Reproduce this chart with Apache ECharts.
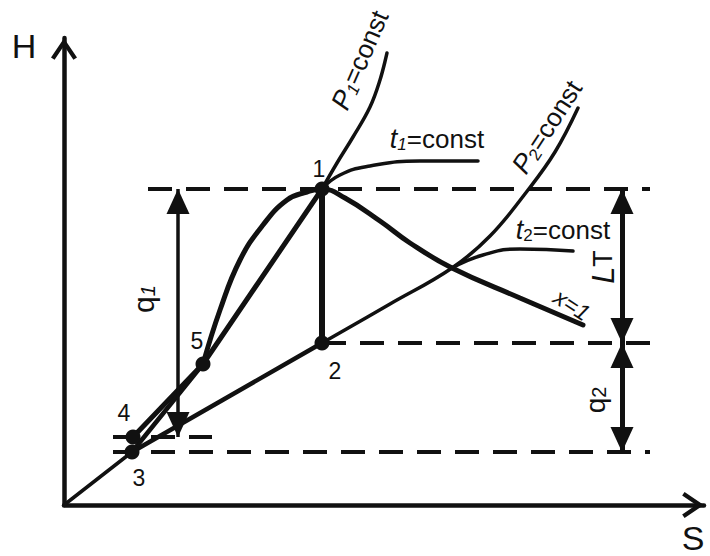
<!DOCTYPE html>
<html>
<head>
<meta charset="utf-8">
<script src="https://cdn.jsdelivr.net/npm/echarts@6/dist/echarts.min.js"></script>
<style>
html, body { margin: 0; padding: 0; background: #fff; }
#chart { width: 710px; height: 556px; }
</style>
</head>
<body>
<div id="chart"></div>
<script>
// state points of the cycle, S along x and H up (units)
const pointNames = ['1', '2', '3', '4', '5'];
const pointS = [258, 258, 68, 69, 139];
const pointH = [316, 162, 53, 68, 141];

// curves, [S, H]
const p2Lower = [[0, 0], [68, 53]];
const expansion32 = [[68, 53], [258, 162]];
const p2Upper = [[258, 162], [326, 201], [388, 237], [426, 269], [464, 315], [491, 353], [514, 397]];
const turbine12 = [[258, 316], [258, 162]];
const heating451 = [[69, 68], [139, 141], [258, 316]];
const liquid35 = [[68, 53], [139, 141]];
const saturation = [[139, 141], [156, 195], [176, 245], [199, 280], [223, 305], [243, 313], [258, 316],
    [281, 307], [316, 284], [346, 262], [388, 237], [456, 207], [519, 180]];
const p1Upper = [[258, 316], [273, 342], [289, 368], [306, 398], [316, 425], [323, 452]];
const t1Curve = [[258, 316], [276, 330], [306, 339], [356, 344], [414, 344]];
const t2Curve = [[388, 237], [419, 250], [456, 256], [509, 254]];

// dashed enthalpy levels
const dashTop = [[84, 316], [586, 316]];
const dashMid = [[258, 162], [586, 162]];
const dashLow = [[49, 53], [586, 53]];
const dashPump = [[49, 68], [148, 68]];

// dimension arrows: [S, H from, H to]
const arrowQ1 = [114, 68, 316];
const arrowLT = [558, 162, 316];
const arrowQ2 = [558, 53, 162];

// label offsets from the dots (px)
const pointLabelOffsets = [[-3, -20], [13, 28], [7, 26], [-9, -24], [-6, -23]];

const ink = '#111';
const font = '"Liberation Sans", Arial, sans-serif';
const chevron = 'path://M0,20 L13.5,0 L27,20 L23.3,22.5 L13.5,8 L3.7,22.5 Z';

function curve(data, width, smooth) {
    return {
        type: 'line',
        data: data,
        symbol: 'none',
        smooth: smooth || false,
        silent: true,
        lineStyle: { color: ink, width: width, cap: 'round', opacity: 1 },
        z: 3
    };
}

function dashed(data) {
    return {
        type: 'line',
        data: data,
        symbol: 'none',
        silent: true,
        lineStyle: { color: ink, width: 4, type: [24, 14], cap: 'butt' },
        z: 2
    };
}

function arrow(a, width) {
    return [
        { coord: [a[0], a[1]], lineStyle: { width: width } },
        { coord: [a[0], a[2]] }
    ];
}

const axisCommon = {
    type: 'value',
    min: 0,
    axisLine: {
        show: true,
        onZero: false,
        symbol: ['none', chevron],
        symbolSize: [26, 22],
        symbolOffset: [0, -11],
        lineStyle: { color: ink, width: 4.5 }
    },
    axisTick: { show: false },
    axisLabel: { show: false },
    splitLine: { show: false }
};

const pointData = pointNames.map(function (n, i) {
    return {
        name: n,
        value: [pointS[i], pointH[i]],
        label: { offset: pointLabelOffsets[i] }
    };
});

function richLabel(x, y, deg, text, rich) {
    return {
        type: 'text', x: x, y: y, rotation: deg * Math.PI / 180,
        style: { text: text, align: 'center', verticalAlign: 'middle', fill: ink, rich: rich }
    };
}

const constRich = function (italicSub) {
    return {
        m: { fontFamily: font, fontSize: 27, fontStyle: 'italic', lineHeight: 28, color: ink },
        s: { fontFamily: font, fontSize: 17, fontStyle: italicSub ? 'italic' : 'normal', verticalAlign: 'bottom', lineHeight: 20, color: ink },
        n: { fontFamily: font, fontSize: 26, lineHeight: 28, color: ink }
    };
};

const chart = echarts.init(document.getElementById('chart'), null, { renderer: 'svg' });

const option = {
    animation: false,
    backgroundColor: '#fff',
    grid: { left: 64, right: 6, top: 38, bottom: 51 },
    xAxis: Object.assign({}, axisCommon, { max: 640 }),
    yAxis: Object.assign({}, axisCommon, { max: 467 }),
    series: [
        dashed(dashTop),
        dashed(dashMid),
        dashed(dashLow),
        dashed(dashPump),
        curve(p2Lower, 3.5),
        curve(expansion32, 4.5),
        curve(p2Upper, 3.5, 0.4),
        curve(turbine12, 6),
        curve(heating451, 5),
        curve(liquid35, 4.5),
        curve(saturation, 5, 0.45),
        curve(p1Upper, 3.5, 0.4),
        curve(t1Curve, 3.5, 0.5),
        curve(t2Curve, 3.5, 0.5),
        {
            type: 'line',
            data: [],
            silent: true,
            markLine: {
                silent: true,
                animation: false,
                symbol: ['triangle', 'triangle'],
                symbolSize: [23, 25],
                symbolOffset: [[0, 12.5], [0, 12.5]],
                label: { show: false },
                emphasis: { disabled: true },
                lineStyle: { color: ink, type: 'solid', width: 5, opacity: 1 },
                data: [arrow(arrowQ1, 3.5), arrow(arrowLT, 5), arrow(arrowQ2, 5)]
            }
        },
        {
            type: 'scatter',
            data: pointData,
            symbol: 'circle',
            symbolSize: 15,
            silent: true,
            itemStyle: { color: ink, opacity: 1 },
            label: {
                show: true,
                position: 'inside',
                formatter: '{b}',
                color: ink,
                fontFamily: font,
                fontSize: 23
            },
            z: 5
        }
    ],
    graphic: [
        { type: 'text', x: 24, y: 46, style: { text: 'H', fontFamily: font, fontSize: 34, fill: ink, align: 'center', verticalAlign: 'middle' } },
        { type: 'text', x: 693, y: 538, style: { text: 'S', fontFamily: font, fontSize: 34, fill: ink, align: 'center', verticalAlign: 'middle' } },
        richLabel(360, 60, 66.5, '{m|P}{s|1}{n|=const}', constRich(true)),
        richLabel(547, 127, 57, '{m|P}{s|2}{n|=const}', constRich(false)),
        richLabel(437, 139, 0, '{m|t}{s|1}{n|=const}', constRich(true)),
        richLabel(563, 230, 0, '{m|t}{s|2}{n|=const}', constRich(false)),
        {
            type: 'text', x: 572, y: 305, rotation: -33 * Math.PI / 180,
            style: { text: 'x=1', fontFamily: font, fontSize: 23, fontStyle: 'italic', fill: ink, align: 'center', verticalAlign: 'middle' }
        },
        richLabel(143, 299, 90, '{m|q}{s|1}', {
            m: { fontFamily: font, fontSize: 30, lineHeight: 30, color: ink },
            s: { fontFamily: font, fontSize: 20, fontStyle: 'italic', verticalAlign: 'bottom', lineHeight: 24, color: ink }
        }),
        richLabel(603, 267, 90, '{m|L}{s|T}', {
            m: { fontFamily: font, fontSize: 31, fontStyle: 'italic', lineHeight: 30, color: ink },
            s: { fontFamily: font, fontSize: 27, lineHeight: 30, color: ink }
        }),
        richLabel(595, 400, 90, '{m|q}{s|2}', {
            m: { fontFamily: font, fontSize: 28, lineHeight: 28, color: ink },
            s: { fontFamily: font, fontSize: 20, verticalAlign: 'bottom', lineHeight: 22, color: ink }
        })
    ]
};

chart.setOption(option);
</script>
</body>
</html>
